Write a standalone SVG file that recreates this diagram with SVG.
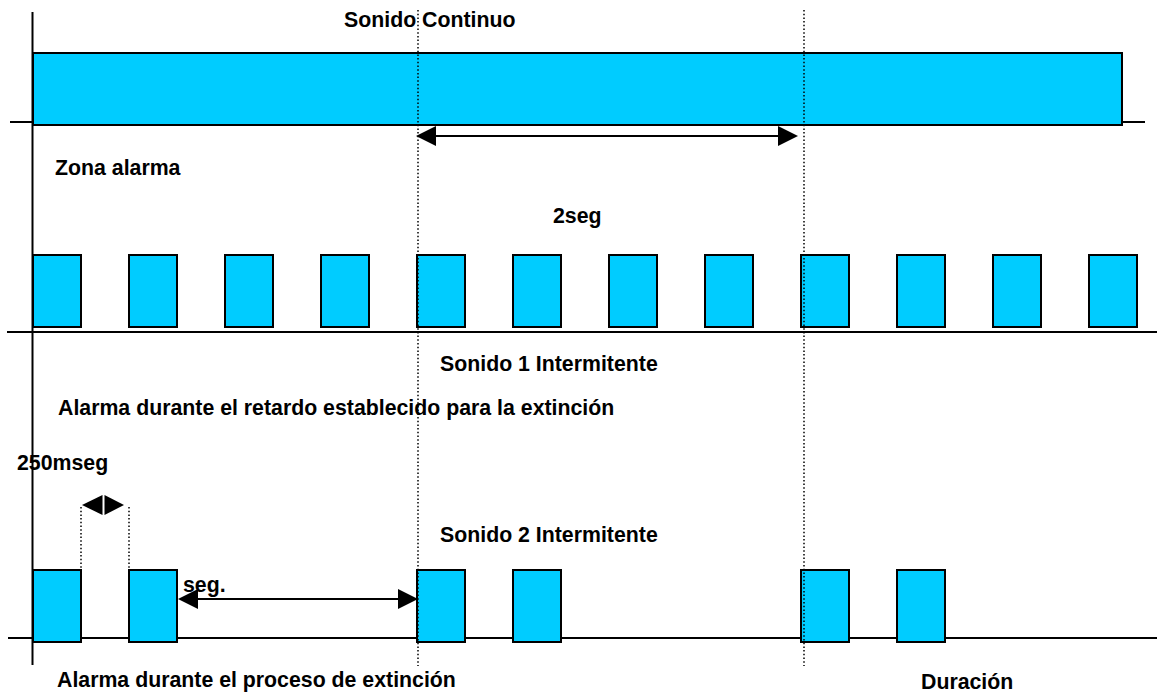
<svg xmlns="http://www.w3.org/2000/svg" width="1157" height="692" viewBox="0 0 1157 692">
<style>
.t{font-family:"Liberation Sans",Arial,sans-serif;font-weight:bold;font-size:21.3px;fill:#000}
.bar{fill:#00CCFF;stroke:#000;stroke-width:2}
.ax{stroke:#000;stroke-width:2;fill:none}
.dot{stroke:#000;stroke-width:1.5;stroke-dasharray:1.5 2.2;fill:none}
.arr{stroke:#000;stroke-width:2;fill:none}
.head{fill:#000}
</style>
<rect width="1157" height="692" fill="#fff"/>
<g id="axes">
<line class="ax" x1="32.5" y1="12" x2="32.5" y2="665"/>
<line class="ax" x1="10" y1="122" x2="1145" y2="122"/>
<line class="ax" x1="7" y1="332" x2="1157" y2="332"/>
<line class="ax" x1="8" y1="638" x2="1157" y2="638"/>
</g>
<g id="continuo">
<rect class="bar" x="33" y="53" width="1089" height="72"/>
</g>
<g id="intermitente1">
<rect class="bar" x="33" y="255" width="48" height="72"/>
<rect class="bar" x="129" y="255" width="48" height="72"/>
<rect class="bar" x="225" y="255" width="48" height="72"/>
<rect class="bar" x="321" y="255" width="48" height="72"/>
<rect class="bar" x="417" y="255" width="48" height="72"/>
<rect class="bar" x="513" y="255" width="48" height="72"/>
<rect class="bar" x="609" y="255" width="48" height="72"/>
<rect class="bar" x="705" y="255" width="48" height="72"/>
<rect class="bar" x="801" y="255" width="48" height="72"/>
<rect class="bar" x="897" y="255" width="48" height="72"/>
<rect class="bar" x="993" y="255" width="48" height="72"/>
<rect class="bar" x="1089" y="255" width="48" height="72"/>
</g>
<g id="intermitente2">
<rect class="bar" x="33" y="570" width="48" height="72"/>
<rect class="bar" x="129" y="570" width="48" height="72"/>
<rect class="bar" x="417" y="570" width="48" height="72"/>
<rect class="bar" x="513" y="570" width="48" height="72"/>
<rect class="bar" x="801" y="570" width="48" height="72"/>
<rect class="bar" x="897" y="570" width="48" height="72"/>
</g>
<g id="connectors">
<line class="dot" x1="418" y1="10" x2="418" y2="666"/>
<line class="dot" x1="804" y1="10" x2="804" y2="666"/>
<line class="dot" x1="81" y1="507" x2="81" y2="570"/>
<line class="dot" x1="129" y1="507" x2="129" y2="570"/>
<line class="arr" x1="434" y1="136" x2="780" y2="136"/>
<polygon class="head" points="416,136 436,126 436,146"/>
<polygon class="head" points="798,136 778,126 778,146"/>
<line class="arr" x1="196" y1="599" x2="400" y2="599"/>
<polygon class="head" points="178,599 198,589 198,609"/>
<polygon class="head" points="418,599 398,589 398,609"/>
<polygon class="head" points="82,505 102.5,495 102.5,515"/>
<polygon class="head" points="124,505 104.5,495 104.5,515"/>
</g>
<g id="labels">
<text class="t" x="344" y="27">Sonido Continuo</text>
<text class="t" x="55" y="175">Zona alarma</text>
<text class="t" x="553" y="223">2seg</text>
<text class="t" x="440" y="371">Sonido 1 Intermitente</text>
<text class="t" x="58" y="415">Alarma durante el retardo establecido para la extinción</text>
<text class="t" x="17" y="470">250mseg</text>
<text class="t" x="440" y="542">Sonido 2 Intermitente</text>
<text class="t" x="183" y="592">seg.</text>
<text class="t" x="57" y="687">Alarma durante el proceso de extinción</text>
<text class="t" x="921" y="689">Duración</text>
</g>
</svg>
